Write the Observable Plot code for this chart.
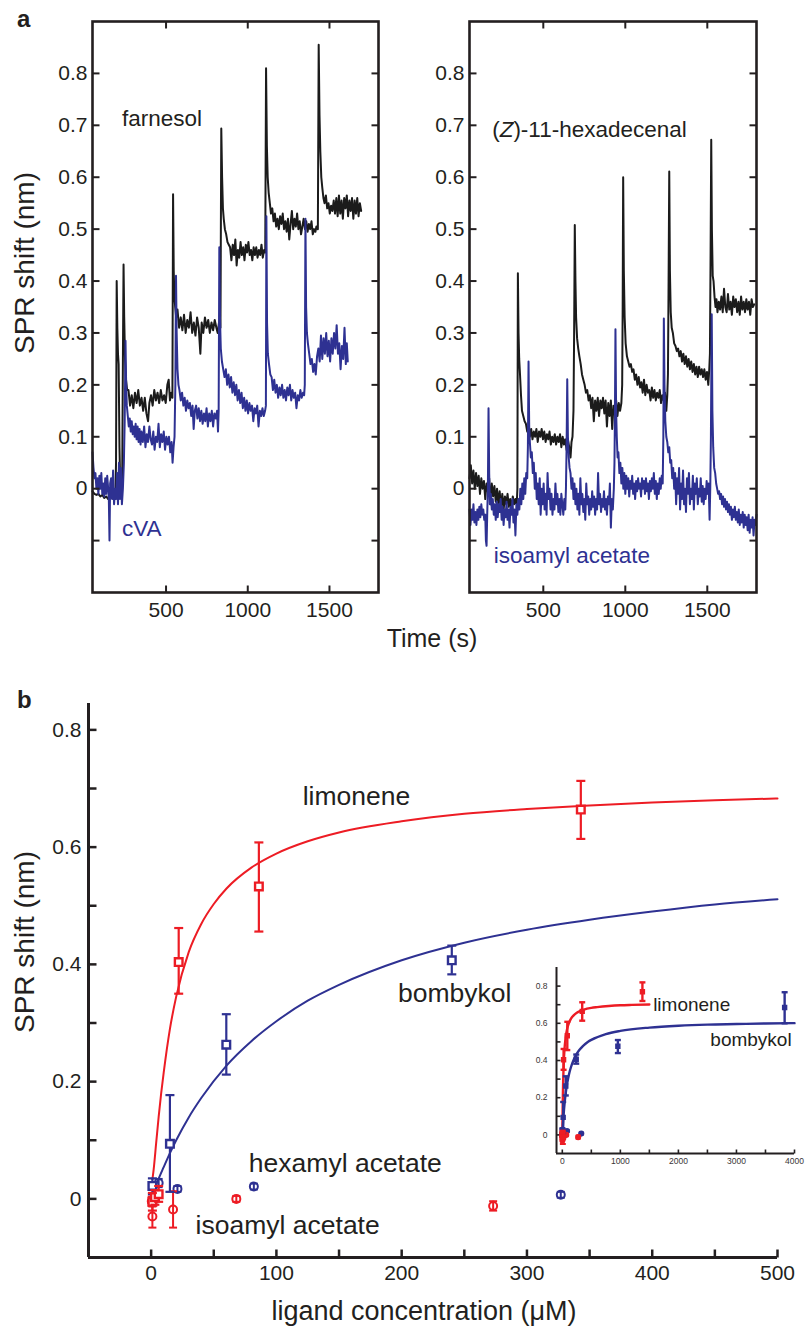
<!DOCTYPE html>
<html>
<head>
<meta charset="utf-8">
<script src="https://cdn.jsdelivr.net/npm/d3@7"></script>
<script src="https://cdn.jsdelivr.net/npm/@observablehq/plot@0.6"></script>
<style>
  html, body { margin: 0; padding: 0; background: #ffffff; }
  #root { position: relative; width: 807px; height: 1327px; overflow: hidden; background: #ffffff; }
</style>
</head>
<body>
<div id="root"></div>
<script>
// ---------------- DATA ----------------
// Panel a: time axis and SPR shift axis
const timeDomain = [50, 1800];
const shiftDomainA = [-0.2, 0.9];
const timeTicks = [500, 1000, 1500];
const shiftTicksA = [-0.1, 0, 0.1, 0.2, 0.3, 0.4, 0.5, 0.6, 0.7, 0.8];
const shiftLabelTicksA = [0, 0.1, 0.2, 0.3, 0.4, 0.5, 0.6, 0.7, 0.8];

// farnesol (black, left) [time s, shift nm]
const farnesolTrace = [[50,-0.005],[62,-0.01],[74,-0.012],[86,-0.01],[98,-0.015],[110,-0.012],[122,-0.018],[134,-0.015],[146,-0.02],[158,-0.015],[170,-0.018],[182,-0.02],[190,-0.015],[194,0.05],[198,0.40],[202,0.31],[206,0.26],[210,0.24],[215,0.08],[220,0.0],[226,-0.01],[232,0.03],[236,0.25],[240,0.432],[244,0.33],[249,0.25],[255,0.21],[262,0.19],[270,0.19],[280,0.16],[290,0.18],[300,0.155],[310,0.185],[320,0.165],[330,0.19],[340,0.16],[350,0.175],[360,0.15],[370,0.175],[380,0.145],[390,0.13],[398,0.165],[408,0.18],[418,0.16],[428,0.19],[438,0.17],[448,0.185],[458,0.165],[468,0.19],[478,0.17],[488,0.18],[498,0.165],[508,0.2],[516,0.21],[524,0.17],[532,0.185],[539,0.175],[543,0.567],[547,0.42],[551,0.37],[556,0.35],[562,0.33],[570,0.345],[580,0.31],[590,0.33],[600,0.305],[610,0.335],[620,0.3],[630,0.325],[640,0.31],[650,0.34],[660,0.3],[670,0.32],[680,0.295],[690,0.33],[700,0.31],[710,0.26],[718,0.32],[728,0.3],[738,0.33],[748,0.31],[758,0.325],[768,0.3],[778,0.32],[788,0.305],[798,0.325],[808,0.31],[816,0.3],[824,0.32],[833,0.31],[838,0.694],[843,0.6],[848,0.54],[853,0.52],[860,0.5],[868,0.49],[876,0.475],[884,0.47],[892,0.465],[900,0.44],[908,0.47],[916,0.45],[924,0.48],[932,0.43],[940,0.46],[948,0.445],[956,0.475],[964,0.45],[972,0.465],[980,0.44],[988,0.47],[996,0.455],[1004,0.475],[1012,0.45],[1020,0.46],[1028,0.44],[1036,0.465],[1044,0.45],[1052,0.465],[1060,0.445],[1068,0.46],[1076,0.45],[1084,0.47],[1092,0.445],[1100,0.46],[1107,0.455],[1112,0.81],[1117,0.66],[1122,0.6],[1128,0.57],[1135,0.55],[1142,0.53],[1150,0.54],[1158,0.515],[1166,0.53],[1174,0.505],[1182,0.52],[1190,0.5],[1198,0.525],[1206,0.51],[1214,0.53],[1222,0.5],[1230,0.515],[1238,0.495],[1246,0.52],[1254,0.48],[1262,0.51],[1270,0.535],[1278,0.5],[1286,0.52],[1294,0.505],[1302,0.53],[1310,0.5],[1318,0.515],[1326,0.49],[1334,0.505],[1342,0.52],[1350,0.5],[1358,0.515],[1366,0.495],[1374,0.51],[1382,0.5],[1390,0.515],[1398,0.49],[1406,0.5],[1414,0.495],[1420,0.505],[1429,0.5],[1434,0.855],[1439,0.72],[1444,0.65],[1450,0.6],[1456,0.58],[1463,0.56],[1470,0.55],[1478,0.565],[1486,0.54],[1494,0.55],[1502,0.53],[1510,0.545],[1518,0.535],[1526,0.555],[1534,0.53],[1542,0.56],[1550,0.525],[1558,0.565],[1566,0.53],[1574,0.555],[1582,0.52],[1590,0.56],[1598,0.54],[1606,0.565],[1614,0.525],[1622,0.555],[1630,0.535],[1638,0.56],[1646,0.52],[1654,0.555],[1662,0.53],[1670,0.56],[1678,0.525],[1686,0.55],[1694,0.535]];

// cVA (blue, left)
const cvaTrace = [[50,0.07],[56,0.04],[62,0.02],[68,0.03],[74,0.0],[80,0.02],[86,-0.01],[92,0.025],[98,0.0],[104,0.03],[110,-0.01],[116,0.01],[122,-0.015],[128,0.02],[134,-0.01],[140,0.025],[146,0.0],[150,-0.02],[154,-0.1],[158,0.01],[164,0.02],[170,-0.02],[176,0.035],[182,-0.03],[188,0.0],[194,-0.02],[200,0.03],[206,-0.03],[212,0.05],[218,-0.02],[224,0.04],[230,-0.03],[236,0.0],[242,0.05],[247,0.13],[252,0.285],[256,0.2],[260,0.16],[266,0.14],[272,0.12],[278,0.135],[284,0.11],[290,0.13],[296,0.105],[302,0.12],[308,0.1],[314,0.125],[320,0.095],[326,0.12],[332,0.09],[338,0.115],[344,0.085],[350,0.11],[358,0.09],[366,0.12],[374,0.08],[382,0.105],[390,0.09],[398,0.12],[406,0.095],[414,0.085],[422,0.11],[430,0.075],[438,0.1],[446,0.09],[454,0.125],[462,0.08],[470,0.105],[478,0.09],[486,0.11],[494,0.075],[502,0.1],[510,0.085],[518,0.1],[526,0.07],[534,0.09],[540,0.05],[546,0.08],[552,0.1],[557,0.2],[561,0.41],[565,0.3],[570,0.23],[576,0.2],[582,0.19],[590,0.17],[598,0.185],[606,0.16],[614,0.175],[622,0.15],[630,0.17],[638,0.155],[646,0.165],[654,0.14],[662,0.16],[669,0.115],[676,0.15],[684,0.16],[692,0.135],[700,0.155],[708,0.13],[716,0.15],[724,0.125],[732,0.145],[740,0.13],[748,0.155],[756,0.12],[764,0.145],[772,0.13],[780,0.15],[788,0.12],[796,0.145],[804,0.135],[812,0.15],[818,0.11],[822,0.15],[826,0.465],[830,0.33],[835,0.27],[842,0.245],[850,0.23],[858,0.215],[866,0.23],[874,0.2],[882,0.22],[890,0.195],[898,0.215],[906,0.185],[914,0.205],[922,0.18],[930,0.2],[938,0.17],[946,0.19],[954,0.165],[962,0.185],[970,0.155],[978,0.175],[986,0.15],[994,0.17],[1002,0.145],[1010,0.165],[1018,0.15],[1026,0.16],[1034,0.13],[1042,0.155],[1050,0.145],[1058,0.16],[1066,0.12],[1074,0.15],[1082,0.14],[1090,0.155],[1098,0.14],[1106,0.15],[1111,0.16],[1114,0.525],[1118,0.32],[1123,0.26],[1130,0.24],[1138,0.22],[1146,0.215],[1154,0.19],[1162,0.21],[1170,0.185],[1178,0.2],[1186,0.175],[1194,0.195],[1202,0.18],[1210,0.2],[1218,0.175],[1226,0.19],[1234,0.17],[1242,0.195],[1250,0.18],[1258,0.2],[1266,0.17],[1274,0.19],[1282,0.175],[1290,0.185],[1298,0.155],[1306,0.18],[1314,0.17],[1322,0.19],[1330,0.175],[1338,0.185],[1345,0.18],[1349,0.2],[1353,0.52],[1357,0.35],[1362,0.3],[1368,0.28],[1376,0.26],[1384,0.24],[1392,0.25],[1400,0.225],[1408,0.24],[1416,0.22],[1424,0.255],[1432,0.27],[1440,0.245],[1448,0.295],[1456,0.25],[1464,0.29],[1472,0.26],[1480,0.3],[1488,0.255],[1496,0.285],[1504,0.245],[1512,0.29],[1520,0.26],[1528,0.3],[1536,0.27],[1544,0.315],[1552,0.26],[1560,0.28],[1568,0.23],[1576,0.275],[1584,0.25],[1592,0.31],[1600,0.24],[1606,0.28],[1612,0.245]];

// (Z)-11-hexadecenal (black, right)
const hexadecenalTrace = [[50,0.02],[58,0.045],[66,0.01],[74,0.035],[82,0.0],[90,0.03],[98,0.005],[106,0.025],[114,-0.01],[122,0.02],[130,0.0],[138,0.015],[146,-0.02],[154,0.01],[162,-0.005],[170,0.02],[178,-0.03],[186,0.01],[194,-0.015],[202,0.005],[210,-0.025],[218,0.0],[226,-0.03],[234,-0.005],[242,-0.035],[250,-0.01],[258,-0.04],[266,-0.015],[274,-0.03],[282,-0.01],[290,-0.035],[298,-0.02],[306,-0.04],[314,-0.015],[322,-0.03],[330,-0.02],[338,-0.03],[342,0.0],[345,0.415],[349,0.3],[353,0.25],[358,0.22],[364,0.18],[370,0.15],[378,0.14],[386,0.13],[394,0.125],[402,0.11],[410,0.12],[418,0.1],[426,0.115],[434,0.095],[442,0.11],[450,0.1],[458,0.115],[466,0.09],[474,0.11],[482,0.1],[490,0.115],[498,0.095],[506,0.11],[514,0.09],[522,0.105],[530,0.095],[538,0.11],[546,0.085],[554,0.1],[562,0.09],[570,0.105],[578,0.085],[586,0.1],[594,0.09],[602,0.105],[610,0.08],[618,0.1],[626,0.085],[634,0.095],[642,0.075],[650,0.095],[658,0.08],[666,0.06],[672,0.09],[678,0.1],[684,0.15],[688,0.3],[692,0.508],[696,0.4],[700,0.33],[706,0.29],[713,0.27],[720,0.255],[728,0.24],[736,0.22],[744,0.21],[752,0.2],[760,0.185],[768,0.19],[776,0.17],[784,0.18],[792,0.155],[800,0.175],[808,0.13],[816,0.17],[824,0.15],[832,0.175],[840,0.14],[848,0.17],[856,0.155],[864,0.175],[872,0.145],[880,0.17],[888,0.12],[896,0.165],[904,0.14],[912,0.17],[920,0.115],[928,0.16],[936,0.145],[944,0.17],[952,0.14],[960,0.165],[968,0.15],[976,0.165],[981,0.2],[984,0.35],[987,0.6],[991,0.42],[996,0.33],[1002,0.28],[1010,0.255],[1018,0.245],[1026,0.235],[1034,0.24],[1042,0.225],[1050,0.23],[1058,0.21],[1066,0.22],[1074,0.2],[1082,0.215],[1090,0.195],[1098,0.205],[1106,0.185],[1114,0.21],[1122,0.18],[1130,0.2],[1138,0.185],[1146,0.19],[1154,0.17],[1162,0.195],[1170,0.175],[1178,0.19],[1186,0.17],[1194,0.185],[1202,0.175],[1210,0.19],[1218,0.165],[1226,0.18],[1234,0.17],[1242,0.185],[1250,0.15],[1256,0.18],[1260,0.22],[1264,0.4],[1268,0.611],[1272,0.42],[1277,0.34],[1283,0.31],[1290,0.3],[1298,0.28],[1306,0.275],[1314,0.265],[1322,0.27],[1330,0.255],[1338,0.265],[1346,0.245],[1354,0.26],[1362,0.24],[1370,0.255],[1378,0.235],[1386,0.25],[1394,0.23],[1402,0.245],[1410,0.225],[1418,0.24],[1426,0.22],[1434,0.235],[1442,0.215],[1450,0.235],[1458,0.22],[1466,0.23],[1474,0.215],[1482,0.23],[1490,0.21],[1498,0.225],[1506,0.2],[1512,0.23],[1516,0.26],[1520,0.45],[1524,0.672],[1528,0.5],[1533,0.41],[1538,0.4],[1544,0.37],[1550,0.35],[1556,0.365],[1562,0.34],[1570,0.36],[1578,0.345],[1586,0.37],[1594,0.34],[1602,0.385],[1610,0.35],[1618,0.34],[1626,0.375],[1634,0.345],[1642,0.36],[1650,0.335],[1658,0.37],[1666,0.35],[1674,0.365],[1682,0.34],[1690,0.36],[1698,0.335],[1706,0.37],[1714,0.345],[1722,0.36],[1730,0.34],[1738,0.365],[1746,0.345],[1754,0.36],[1762,0.335],[1770,0.365],[1778,0.35],[1786,0.355]];

// isoamyl acetate (blue, right)
const isoamylTrace = [[50,-0.04],[56,-0.07],[62,-0.04],[68,-0.06],[74,-0.03],[80,-0.065],[86,-0.045],[92,-0.07],[98,-0.04],[104,-0.06],[110,-0.035],[116,-0.055],[122,-0.03],[128,-0.05],[134,-0.04],[140,-0.06],[146,-0.05],[150,-0.1],[154,-0.11],[158,-0.05],[162,0.0],[166,0.155],[170,0.03],[174,-0.03],[180,-0.01],[186,-0.04],[192,-0.02],[198,-0.05],[204,-0.03],[210,-0.06],[216,-0.025],[222,-0.055],[228,-0.03],[234,-0.045],[240,-0.02],[246,-0.06],[252,-0.035],[258,-0.07],[264,-0.04],[270,-0.055],[276,-0.025],[282,-0.06],[288,-0.04],[294,-0.075],[300,-0.035],[306,-0.05],[312,-0.02],[318,-0.065],[324,-0.04],[330,-0.09],[336,-0.03],[342,-0.05],[348,-0.02],[354,-0.04],[360,0.0],[366,-0.03],[372,0.01],[378,-0.02],[384,0.02],[390,-0.01],[396,0.03],[402,0.02],[406,0.08],[410,0.245],[414,0.12],[418,0.09],[424,0.06],[430,0.07],[436,0.03],[442,0.05],[448,0.0],[454,0.03],[460,-0.02],[466,0.01],[472,-0.03],[478,0.02],[484,-0.05],[490,0.0],[496,-0.03],[502,0.01],[508,-0.04],[514,-0.01],[520,-0.05],[526,0.03],[532,-0.02],[538,0.0],[544,-0.04],[550,-0.01],[556,-0.05],[562,-0.02],[568,-0.04],[574,0.01],[580,-0.03],[586,-0.01],[592,-0.045],[598,-0.02],[604,-0.05],[610,-0.01],[616,-0.03],[622,-0.05],[628,-0.02],[634,-0.04],[638,0.0],[642,0.08],[646,0.211],[650,0.1],[655,0.06],[660,0.04],[666,0.03],[672,0.0],[678,0.02],[684,-0.02],[690,0.01],[696,-0.03],[702,0.0],[708,-0.04],[714,-0.01],[720,-0.05],[726,0.02],[732,-0.03],[738,-0.01],[744,-0.045],[750,-0.02],[756,-0.06],[762,0.01],[768,-0.03],[774,-0.015],[780,-0.05],[786,-0.02],[792,-0.04],[798,-0.005],[804,-0.035],[810,-0.015],[816,-0.05],[822,-0.02],[828,-0.04],[834,0.03],[840,-0.03],[846,-0.01],[852,-0.045],[858,-0.02],[864,-0.035],[870,-0.005],[876,-0.04],[882,-0.02],[888,-0.05],[894,-0.015],[900,-0.03],[906,0.01],[912,-0.075],[918,-0.02],[924,-0.04],[930,0.0],[934,0.05],[937,0.15],[940,0.307],[944,0.15],[948,0.1],[953,0.06],[958,0.07],[964,0.03],[970,0.05],[976,0.01],[982,0.04],[988,0.0],[994,0.03],[1000,-0.01],[1006,0.025],[1012,0.0],[1018,0.02],[1024,-0.015],[1030,0.015],[1036,0.0],[1042,0.025],[1048,-0.01],[1054,0.01],[1060,-0.02],[1066,0.015],[1072,-0.005],[1078,0.02],[1084,0.0],[1090,0.01],[1096,-0.015],[1102,0.02],[1108,0.0],[1114,0.015],[1120,-0.01],[1126,0.02],[1132,-0.005],[1138,0.01],[1144,-0.02],[1150,0.015],[1156,-0.005],[1162,0.02],[1168,0.0],[1174,0.03],[1180,-0.01],[1186,0.015],[1192,-0.02],[1198,0.01],[1204,-0.01],[1210,0.02],[1216,0.0],[1222,0.025],[1228,0.01],[1232,0.1],[1235,0.328],[1239,0.2],[1244,0.13],[1250,0.1],[1256,0.09],[1262,0.07],[1268,0.08],[1274,0.05],[1280,0.055],[1286,0.02],[1292,0.04],[1298,0.0],[1304,0.03],[1310,-0.03],[1316,0.02],[1322,-0.01],[1328,0.04],[1334,-0.04],[1340,0.01],[1346,-0.02],[1352,0.035],[1358,-0.03],[1364,0.0],[1370,-0.045],[1376,0.02],[1382,-0.01],[1388,0.03],[1394,-0.03],[1400,0.0],[1406,-0.02],[1412,0.025],[1418,-0.04],[1424,0.01],[1430,-0.01],[1436,0.02],[1442,-0.03],[1448,0.0],[1454,-0.015],[1460,0.02],[1466,-0.025],[1472,0.005],[1478,-0.03],[1484,0.0],[1490,-0.02],[1496,0.015],[1502,-0.01],[1508,0.01],[1514,-0.06],[1518,0.0],[1522,0.1],[1527,0.336],[1531,0.15],[1536,0.08],[1542,0.04],[1548,0.03],[1554,0.01],[1560,0.0],[1566,-0.01],[1572,-0.005],[1578,-0.02],[1584,-0.01],[1590,-0.03],[1596,-0.015],[1602,-0.035],[1608,-0.02],[1614,-0.04],[1620,-0.025],[1626,-0.045],[1632,-0.03],[1638,-0.05],[1644,-0.035],[1650,-0.06],[1656,-0.04],[1662,-0.055],[1668,-0.035],[1674,-0.06],[1680,-0.045],[1686,-0.065],[1692,-0.04],[1698,-0.07],[1704,-0.05],[1710,-0.065],[1716,-0.045],[1722,-0.075],[1728,-0.05],[1734,-0.07],[1740,-0.055],[1746,-0.08],[1752,-0.05],[1758,-0.085],[1764,-0.06],[1770,-0.075],[1776,-0.055],[1782,-0.09],[1788,-0.06],[1794,-0.07],[1800,-0.05]];

// Panel b: ligand concentration (µM) vs SPR shift (nm)
const concDomain = [-50, 500];
const shiftDomainB = [-0.1, 0.845];
const concTicks = [0, 50, 100, 150, 200, 250, 300, 350, 400, 450, 500];
const concLabelTicks = [0, 100, 200, 300, 400, 500];
const shiftTicksB = [0, 0.1, 0.2, 0.3, 0.4, 0.5, 0.6, 0.7, 0.8];
const shiftLabelTicksB = [0, 0.2, 0.4, 0.6, 0.8];

const limoneneConc  = [1, 3, 6, 22, 86, 343, 1380];
const limoneneShift = [-0.005, 0.003, 0.008, 0.404, 0.533, 0.664, 0.770];
const limoneneLow   = [-0.02, -0.01, -0.005, 0.350, 0.456, 0.614, 0.720];
const limoneneHigh  = [0.01, 0.015, 0.022, 0.462, 0.608, 0.713, 0.820];

const bombykolConc  = [1, 15, 60, 240, 957, 3830];
const bombykolShift = [0.022, 0.094, 0.263, 0.407, 0.477, 0.685];
const bombykolLow   = [0.008, 0.012, 0.212, 0.383, 0.440, 0.600];
const bombykolHigh  = [0.035, 0.177, 0.315, 0.432, 0.510, 0.767];

const hexamylConc  = [1, 6, 21, 82, 327];
const hexamylShift = [-0.006, 0.027, 0.017, 0.021, 0.007];
const hexamylLow   = [-0.012, 0.020, 0.012, 0.016, 0.002];
const hexamylHigh  = [0.000, 0.034, 0.022, 0.026, 0.012];

const isoamylConc  = [0.5, 1, 17.5, 68, 273];
const isoamylShift = [-0.004, -0.030, -0.018, 0.000, -0.012];
const isoamylLow   = [-0.012, -0.049, -0.049, -0.005, -0.020];
const isoamylHigh  = [0.004, -0.013, 0.013, 0.005, -0.004];

// fitted binding curves
const limoneneFitConc  = [1, 2, 4, 6, 8, 10, 15, 20, 30, 40, 50, 60, 80, 100, 125, 150, 200, 250, 300, 350, 400, 450, 500, 600, 800, 1000, 1200, 1500];
const limoneneFitShift = [0.033, 0.05, 0.095, 0.14, 0.18, 0.215, 0.29, 0.345, 0.421, 0.469, 0.503, 0.529, 0.565, 0.589, 0.610, 0.625, 0.644, 0.657, 0.665, 0.671, 0.676, 0.680, 0.683, 0.687, 0.693, 0.697, 0.699, 0.701];
const bombykolFitConc  = [2, 5, 10, 15, 20, 30, 40, 60, 80, 100, 125, 150, 200, 250, 300, 350, 400, 450, 500, 750, 1000, 1500, 2000, 2500, 3000, 3500, 4000];
const bombykolFitShift = [0.012, 0.029, 0.054, 0.078, 0.100, 0.139, 0.172, 0.227, 0.269, 0.303, 0.338, 0.365, 0.407, 0.437, 0.459, 0.476, 0.490, 0.502, 0.511, 0.542, 0.559, 0.577, 0.587, 0.593, 0.596, 0.599, 0.601];

// inset
const insetConcDomain = [-100, 4000];
const insetShiftDomain = [-0.1, 0.9];
const insetConcTicks = [0, 500, 1000, 1500, 2000, 2500, 3000, 3500, 4000];
const insetConcLabelTicks = [0, 1000, 2000, 3000, 4000];
const insetShiftTicks = [0, 0.1, 0.2, 0.3, 0.4, 0.5, 0.6, 0.7, 0.8];
const insetShiftLabelTicks = [0, 0.2, 0.4, 0.6, 0.8];

// ---------------- STYLE ----------------
const INK = "#231f20", RED = "#ed1c24", BLUE = "#2e3192", TRACE_BLACK = "#1b1b1b";
const FONT = "'Liberation Sans', Arial, Helvetica, sans-serif";
const root = document.getElementById("root");

function place(node, left, top) {
  const d = document.createElement("div");
  d.style.cssText = `position:absolute;left:${left}px;top:${top}px;`;
  d.appendChild(node);
  root.appendChild(d);
}
const tickMark = (dx, dy) => ({draw(ctx) { ctx.moveTo(0, 0); ctx.lineTo(dx, dy); }});
const capMark = (w) => ({draw(ctx) { ctx.moveTo(-w, 0); ctx.lineTo(w, 0); }});
const fmt = d => d === 0 ? "0" : d.toFixed(1);
const intFmt = d => String(d);
const tk = (data, x, y, sym, sw = 2) => Plot.dot(data, {x, y, symbol: sym, stroke: INK, strokeWidth: sw, fill: "none"});

const zip = (xs, ys, lo, hi) => xs.map((x, i) => ({x, y: ys[i], lo: lo ? lo[i] : null, hi: hi ? hi[i] : null}));
const limonene = zip(limoneneConc, limoneneShift, limoneneLow, limoneneHigh);
const bombykol = zip(bombykolConc, bombykolShift, bombykolLow, bombykolHigh);
const hexamyl = zip(hexamylConc, hexamylShift, hexamylLow, hexamylHigh);
const isoamyl = zip(isoamylConc, isoamylShift, isoamylLow, isoamylHigh);
const limoneneFit = zip(limoneneFitConc, limoneneFitShift);
const bombykolFit = zip(bombykolFitConc, bombykolFitShift);

// ---------------- PANEL a ----------------
function tracePanel(blackTrace, blueTrace, blackLabel, blueLabel, width, marginLeft, marginRight) {
  const [t0, t1] = timeDomain, [y0, y1] = shiftDomainA;
  return Plot.plot({
    width, height: 640, marginLeft, marginRight, marginTop: 21, marginBottom: 48,
    x: {domain: timeDomain}, y: {domain: shiftDomainA},
    style: {fontFamily: FONT, fontSize: "21px", color: INK, background: "transparent", overflow: "visible"},
    marks: [
      Plot.line(blackTrace, {x: d => d[0], y: d => d[1], stroke: TRACE_BLACK, strokeWidth: 2}),
      Plot.line(blueTrace, {x: d => d[0], y: d => d[1], stroke: BLUE, strokeWidth: 2}),
      tk(shiftTicksA, () => t0, d => d, tickMark(7, 0)),
      tk(shiftTicksA, () => t1, d => d, tickMark(-7, 0)),
      tk(timeTicks, d => d, () => y0, tickMark(0, -7)),
      tk(timeTicks, d => d, () => y1, tickMark(0, 7)),
      Plot.frame({stroke: INK, strokeWidth: 2.6}),
      Plot.axisX(timeTicks, {tickSize: 0, tickPadding: 10, tickFormat: intFmt, label: null}),
      Plot.axisY(shiftLabelTicksA, {tickSize: 0, tickPadding: 5, tickFormat: fmt, label: null}),
      Plot.text([blackLabel.text], {x: () => blackLabel.t, y: () => blackLabel.y, text: d => d, textAnchor: "start", fontSize: 22.5, fill: INK}),
      Plot.text([blueLabel.text], {x: () => blueLabel.t, y: () => blueLabel.y, text: d => d, textAnchor: "start", fontSize: 22.5, fill: BLUE})
    ]
  });
}

const aLeft = tracePanel(farnesolTrace, cvaTrace,
  {text: "farnesol", t: 230, y: 0.713}, {text: "cVA", t: 230, y: -0.077}, 400, 92, 22);
place(aLeft, 0, 0);
const aRight = tracePanel(hexadecenalTrace, isoamylTrace,
  {text: "(Z)-11-hexadecenal", t: 188, y: 0.691}, {text: "isoamyl acetate", t: 198, y: -0.130}, 407, 69, 51);
place(aRight, 400, 0);
d3.select(aRight).selectAll("text").filter(function() { return this.textContent === "(Z)-11-hexadecenal"; })
  .html('(<tspan font-style="italic">Z</tspan>)-11-hexadecenal');

// ---------------- PANEL b ----------------
function errorMarks(data, color, o) {
  return [
    Plot.ruleX(data, {x: "x", y1: "lo", y2: "hi", stroke: color, strokeWidth: o.bar}),
    Plot.dot(data, {x: "x", y: "y", symbol: o.shape, r: o.r, stroke: color, strokeWidth: o.sw, fill: o.fill}),
    Plot.dot(data, {x: "x", y: "lo", symbol: capMark(o.cap), stroke: color, strokeWidth: o.bar, fill: "none"}),
    Plot.dot(data, {x: "x", y: "hi", symbol: capMark(o.cap), stroke: color, strokeWidth: o.bar, fill: "none"})
  ];
}
const inMain = d => d.x <= concDomain[1];
const squareMain = {shape: "square", r: 4.3, sw: 2.4, fill: "white", bar: 2.2, cap: 4.5};
const circleMain = {shape: "circle", r: 4, sw: 2, fill: "none", bar: 2, cap: 4};

const bMain = Plot.plot({
  width: 807, height: 647, marginLeft: 88, marginRight: 30, marginTop: 23, marginBottom: 70,
  x: {domain: concDomain}, y: {domain: shiftDomainB},
  style: {fontFamily: FONT, fontSize: "21px", color: INK, background: "transparent", overflow: "visible"},
  marks: [
    Plot.ruleX([concDomain[0]], {stroke: INK, strokeWidth: 3}),
    Plot.ruleY([shiftDomainB[0]], {stroke: INK, strokeWidth: 3}),
    tk(shiftTicksB, () => concDomain[0], d => d, tickMark(8, 0), 2.5),
    tk(concTicks, d => d, () => shiftDomainB[0], tickMark(0, -8), 2.5),
    Plot.axisX(concLabelTicks, {tickSize: 0, tickPadding: 8, tickFormat: intFmt, label: null}),
    Plot.axisY(shiftLabelTicksB, {tickSize: 0, tickPadding: 7, tickFormat: fmt, label: null}),
    Plot.line(limoneneFit.filter(inMain), {x: "x", y: "y", stroke: RED, strokeWidth: 2, curve: "monotone-x"}),
    Plot.line(bombykolFit.filter(inMain), {x: "x", y: "y", stroke: BLUE, strokeWidth: 2, curve: "monotone-x"}),
    ...errorMarks(hexamyl.filter(inMain), BLUE, circleMain),
    ...errorMarks(isoamyl.filter(inMain), RED, circleMain),
    ...errorMarks(bombykol.filter(inMain), BLUE, squareMain),
    ...errorMarks(limonene.filter(inMain), RED, squareMain),
    Plot.text(["limonene"], {x: () => 121, y: () => 0.686, text: d => d, textAnchor: "start", fontSize: 26.5, fill: INK}),
    Plot.text(["bombykol"], {x: () => 197, y: () => 0.350, text: d => d, textAnchor: "start", fontSize: 26.5, fill: INK}),
    Plot.text(["hexamyl acetate"], {x: () => 78, y: () => 0.061, text: d => d, textAnchor: "start", fontSize: 26.5, fill: INK}),
    Plot.text(["isoamyl acetate"], {x: () => 35.5, y: () => -0.045, text: d => d, textAnchor: "start", fontSize: 26.5, fill: INK})
  ]
});
place(bMain, 0, 680);

// ---------------- INSET ----------------
const squareInset = {shape: "square", r: 2.2, sw: 1.5, fill: "currentColor", bar: 2.4, cap: 3};
const circleInset = {shape: "circle", r: 2.3, sw: 1.5, fill: "currentColor", bar: 2, cap: 2.5};
function colored(opts, color) { return {...opts, fill: opts.fill === "currentColor" ? color : opts.fill}; }
const inset = Plot.plot({
  width: 287, height: 215, marginLeft: 36, marginRight: 13, marginTop: 12, marginBottom: 17,
  x: {domain: insetConcDomain}, y: {domain: insetShiftDomain},
  style: {fontFamily: FONT, fontSize: "8.5px", color: "#3a3536", background: "transparent", overflow: "visible"},
  marks: [
    Plot.ruleX([insetConcDomain[0]], {stroke: INK, strokeWidth: 2}),
    Plot.ruleY([insetShiftDomain[0]], {stroke: INK, strokeWidth: 2}),
    tk(insetShiftTicks, () => insetConcDomain[0], d => d, tickMark(4, 0), 1.6),
    tk(insetConcTicks, d => d, () => insetShiftDomain[0], tickMark(0, -4), 1.6),
    Plot.axisX(insetConcLabelTicks, {tickSize: 0, tickPadding: 4, tickFormat: intFmt, label: null}),
    Plot.axisY(insetShiftLabelTicks, {tickSize: 0, tickPadding: 9, tickFormat: fmt, label: null}),
    Plot.line(limoneneFit, {x: "x", y: "y", stroke: RED, strokeWidth: 2.4, curve: "monotone-x"}),
    Plot.line(bombykolFit, {x: "x", y: "y", stroke: BLUE, strokeWidth: 2.4, curve: "monotone-x"}),
    ...errorMarks(hexamyl, BLUE, colored(circleInset, BLUE)),
    ...errorMarks(isoamyl, RED, colored(circleInset, RED)),
    ...errorMarks(bombykol, BLUE, colored(squareInset, BLUE)),
    ...errorMarks(limonene, RED, colored(squareInset, RED)),
    Plot.text(["limonene"], {x: () => 1565, y: () => 0.697, text: d => d, textAnchor: "start", fontSize: 19, fill: INK}),
    Plot.text(["bombykol"], {x: () => 2550, y: () => 0.509, text: d => d, textAnchor: "start", fontSize: 19, fill: INK})
  ]
});
place(inset, 520, 955);

// ---------------- TITLES / AXIS LABELS ----------------
const ov = d3.create("svg").attr("width", 807).attr("height", 1327)
  .style("position", "absolute").style("left", "0px").style("top", "0px")
  .style("pointer-events", "none").style("font-family", FONT).attr("fill", INK);
ov.append("text").attr("x", 17).attr("y", 27).attr("font-weight", "bold").attr("font-size", 24).text("a");
ov.append("text").attr("x", 17).attr("y", 708).attr("font-weight", "bold").attr("font-size", 24).text("b");
ov.append("text").attr("transform", "translate(34,263) rotate(-90)").attr("text-anchor", "middle").attr("font-size", 28).text("SPR shift (nm)");
ov.append("text").attr("transform", "translate(34,942) rotate(-90)").attr("text-anchor", "middle").attr("font-size", 28).text("SPR shift (nm)");
ov.append("text").attr("x", 432).attr("y", 647).attr("text-anchor", "middle").attr("font-size", 25).text("Time (s)");
ov.append("text").attr("x", 424).attr("y", 1320).attr("text-anchor", "middle").attr("font-size", 27).text("ligand concentration (μM)");
root.appendChild(ov.node());
</script>
</body>
</html>
